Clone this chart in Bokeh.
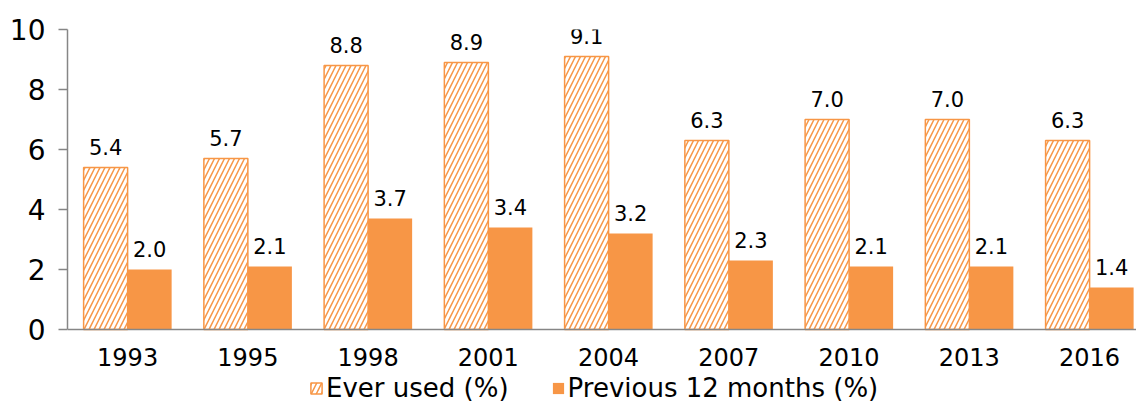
from bokeh.plotting import figure
from bokeh.models import (ColumnDataSource, Range1d, FixedTicker, Legend, LegendItem,
                          LabelSet)
from bokeh.core.properties import value
from bokeh.embed import file_html
from bokeh.resources import INLINE

years = ["1993", "1995", "1998", "2001", "2004", "2007", "2010", "2013", "2016"]
ever_used = [5.4, 5.7, 8.8, 8.9, 9.1, 6.3, 7.0, 7.0, 6.3]
previous_12 = [2.0, 2.1, 3.7, 3.4, 3.2, 2.3, 2.1, 2.1, 1.4]
y_ticks = [0, 2, 4, 6, 8, 10]

ORANGE = "#F79646"
AXIS = "#868686"
FONT = "DejaVu Sans"

idx = list(range(len(years)))
bw = 0.366
src = ColumnDataSource(dict(
    x_ever=[i - bw / 2 for i in idx],
    x_prev=[i + bw / 2 for i in idx],
    ever=ever_used,
    prev=previous_12,
    ever_lbl=[f"{v:.1f}" for v in ever_used],
    prev_lbl=[f"{v:.1f}" for v in previous_12],
))

# frame spans from the top of the value axis down to the bottom of the picture;
# the category axis sits at y = 0 inside it, the legend underneath.
p = figure(frame_width=1069, frame_height=374, output_backend="svg", toolbar_location=None,
           x_range=Range1d(-0.5, 8.39), y_range=Range1d(-74 / 29.95, 10),
           min_border_left=67, min_border_right=0, min_border_top=29,
           min_border_bottom=0)
p.outline_line_color = None
p.grid.visible = False

r1 = p.vbar(x="x_ever", top="ever", width=bw, source=src, fill_color="white",
            line_color=ORANGE, line_width=1.5, hatch_pattern="/", hatch_color=ORANGE,
            hatch_scale=10, hatch_weight=1.5)
r2 = p.vbar(x="x_prev", top="prev", width=bw, source=src, fill_color=ORANGE,
            line_color=None)

for xcol, ycol, lcol in (("x_ever", "ever", "ever_lbl"), ("x_prev", "prev", "prev_lbl")):
    p.add_layout(LabelSet(x=xcol, y=ycol, text=lcol, source=src, text_align="center",
                          text_baseline="bottom", y_offset=12, text_font=value(FONT),
                          text_font_size="21px", text_color="black"))

# y axis
p.yaxis.ticker = FixedTicker(ticks=y_ticks)
p.yaxis.bounds = (0, 10)
p.yaxis.axis_line_color = AXIS
p.yaxis.axis_line_width = 1.5
p.yaxis.major_tick_line_color = AXIS
p.yaxis.major_tick_line_width = 1.5
p.yaxis.major_tick_out = 9
p.yaxis.major_tick_in = 0
p.yaxis.minor_tick_line_color = None
p.yaxis.major_label_standoff = 13
p.yaxis.major_label_text_font = FONT
p.yaxis.major_label_text_font_size = "28px"
p.yaxis.major_label_text_color = "black"

# x axis
p.xaxis.fixed_location = 0
p.xaxis.ticker = FixedTicker(ticks=idx)
p.xaxis.major_label_overrides = {i: y for i, y in zip(idx, years)}
p.xaxis.axis_line_color = AXIS
p.xaxis.axis_line_width = 1.5
p.xaxis.major_tick_line_color = None
p.xaxis.major_tick_out = 0
p.xaxis.minor_tick_line_color = None
p.xaxis.major_label_standoff = 19
p.xaxis.major_label_text_font = FONT
p.xaxis.major_label_text_font_size = "24px"
p.xaxis.major_label_text_color = "black"

legend = Legend(items=[LegendItem(label="Ever used (%)", renderers=[r1]),
                       LegendItem(label="Previous 12 months (%)", renderers=[r2])],
                orientation="horizontal", location=(242, 0),
                label_text_font=FONT, label_text_font_size="26px",
                label_text_color="black",
                glyph_width=14, glyph_height=14, label_standoff=3, spacing=42,
                border_line_color=None, background_fill_alpha=0,
                padding=0, margin=0)
p.add_layout(legend, "center")

open("out.html", "w").write(file_html(p, INLINE))
